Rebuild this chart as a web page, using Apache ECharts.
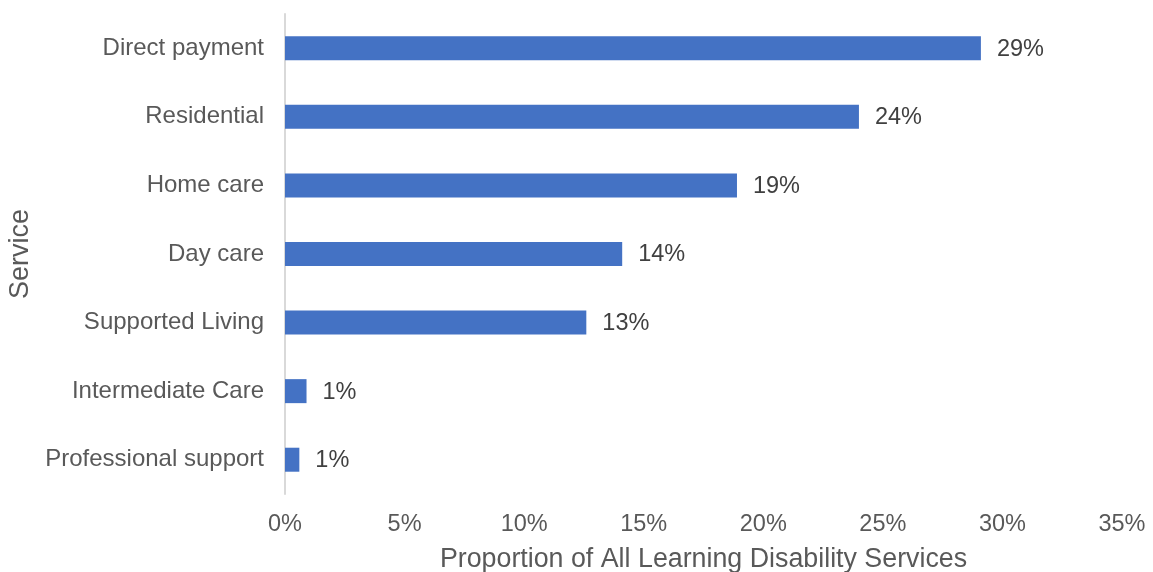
<!DOCTYPE html>
<html>
<head>
<meta charset="utf-8">
<script src="https://cdn.jsdelivr.net/npm/echarts@6/dist/echarts.min.js"></script>
<style>
  html, body { margin: 0; padding: 0; background: #ffffff; }
  #chart { width: 1153px; height: 572px; }
</style>
</head>
<body>
<div id="chart"></div>
<script>
// Services, listed top to bottom
const services = [
  'Direct payment',
  'Residential',
  'Home care',
  'Day care',
  'Supported Living',
  'Intermediate Care',
  'Professional support'
];
// Share of all learning disability services (%)
const shares = [29.1, 24.0, 18.9, 14.1, 12.6, 0.9, 0.6];
// Horizontal axis ticks (%)
const xTicks = [0, 5, 10, 15, 20, 25, 30, 35];

const font = '"Liberation Sans", Arial, sans-serif';
const chart = echarts.init(document.getElementById('chart'), null, { renderer: 'canvas' });

chart.setOption({
  animation: false,
  backgroundColor: '#ffffff',
  grid: {
    left: 285, right: 31, top: 14, bottom: 78,
    containLabel: false, outerBoundsMode: 'none'
  },
  xAxis: {
    type: 'value',
    min: xTicks[0],
    max: xTicks[xTicks.length - 1],
    interval: xTicks[1] - xTicks[0],
    name: 'Proportion of All Learning Disability Services',
    nameLocation: 'middle',
    nameGap: 52,
    nameTextStyle: { color: '#595959', fontSize: 26.8, fontFamily: font },
    axisLine: { show: false },
    axisTick: { show: false },
    splitLine: { show: false },
    axisLabel: {
      color: '#595959', fontSize: 23.5, fontFamily: font, margin: 19,
      formatter: v => v + '%'
    }
  },
  yAxis: {
    type: 'category',
    inverse: true,
    data: services,
    name: 'Service',
    nameLocation: 'middle',
    nameGap: 250,
    nameRotate: 90,
    nameTextStyle: { color: '#595959', fontSize: 27, fontFamily: font },
    axisLine: { show: true, lineStyle: { color: '#d9d9d9', width: 2 } },
    axisTick: { show: false },
    splitLine: { show: false },
    axisLabel: {
      color: '#595959', fontSize: 24, fontFamily: font, margin: 21,
      padding: [6, 0, 0, 0]
    }
  },
  series: [{
    type: 'bar',
    data: shares,
    barWidth: 24,
    itemStyle: { color: '#4472C4' },
    label: {
      show: true,
      position: 'right',
      distance: 16,
      offset: [0, 1],
      color: '#404040',
      fontSize: 23.5,
      fontFamily: font,
      formatter: p => Math.round(p.value) + '%'
    }
  }]
});
</script>
</body>
</html>
